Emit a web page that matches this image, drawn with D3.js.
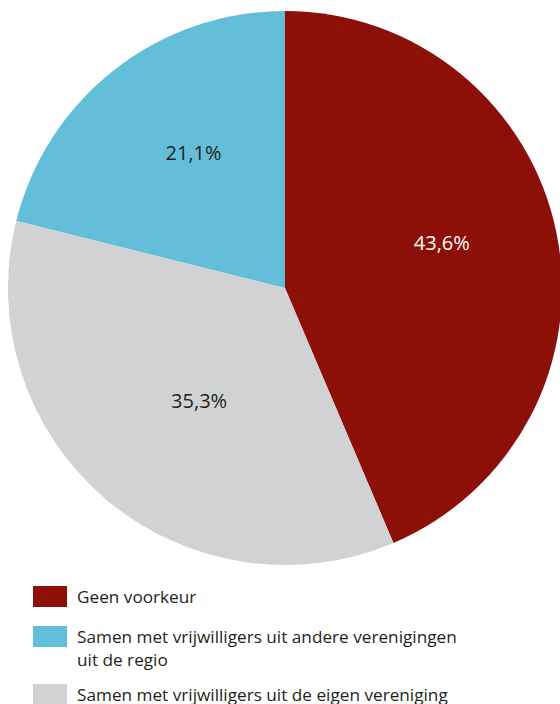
<!DOCTYPE html>
<html>
<head>
<meta charset="utf-8">
<script src="https://cdn.jsdelivr.net/npm/d3@7"></script>
<style>
  body { margin: 0; background: #fff; }
  text { font-family: "Open Sans", "Noto Sans", sans-serif; }
</style>
</head>
<body>
<script>
// slices, clockwise from 12 o'clock
var categories = ["Geen voorkeur",
                  "Samen met vrijwilligers uit de eigen vereniging",
                  "Samen met vrijwilligers uit andere verenigingen uit de regio"];
var values = [43.6, 35.3, 21.1];
var colors = ["#8c1008", "#d1d2d4", "#63bfd9"];
var labelColors = ["#ffffff", "#231f20", "#231f20"];

// legend order differs from slice order
var legendOrder = [0, 2, 1];
var legendLines = [["Geen voorkeur"],
                   ["Samen met vrijwilligers uit andere verenigingen", "uit de regio"],
                   ["Samen met vrijwilligers uit de eigen vereniging"]];

var width = 560, height = 704;
var cx = 285, cy = 288, radius = 277;

var svg = d3.select("body").append("svg")
    .attr("width", width)
    .attr("height", height);

var pie = d3.pie().sort(null).value(function(d) { return d; });
var arcs = pie(values);

var arc = d3.arc().innerRadius(0).outerRadius(radius);
var labelArc = d3.arc().innerRadius(160).outerRadius(160);

var g = svg.append("g")
    .attr("transform", "translate(" + cx + "," + cy + ")");

g.selectAll(".slice")
    .data(arcs)
  .enter().append("path")
    .attr("class", "slice")
    .attr("d", arc)
    .attr("fill", function(d, i) { return colors[i]; });

// small nudges so labels sit where the original has them
var nudge = [[0, -13], [18, -9], [7, -9]];

g.selectAll(".lbl")
    .data(arcs)
  .enter().append("text")
    .attr("class", "lbl")
    .attr("transform", function(d, i) {
        var c = labelArc.centroid(d);
        return "translate(" + (c[0] + nudge[i][0]) + "," + (c[1] + nudge[i][1]) + ")";
    })
    .attr("text-anchor", "middle")
    .attr("dy", "0.35em")
    .style("font-size", "20px")
    .attr("fill", function(d, i) { return labelColors[i]; })
    .text(function(d) { return d3.format(".1f")(d.value).replace(".", ",") + "%"; });

// legend
var legendY = [586, 626, 684];
var legend = svg.append("g");

legendOrder.forEach(function(idx, k) {
    legend.append("rect")
        .attr("x", 33)
        .attr("y", legendY[k])
        .attr("width", 34)
        .attr("height", 21)
        .attr("fill", colors[idx]);

    var t = legend.append("text")
        .attr("x", 77)
        .attr("y", legendY[k] + 17)
        .style("font-size", "17.2px")
        .attr("fill", "#231f20");
    legendLines[k].forEach(function(line, j) {
        t.append("tspan")
            .attr("x", 77)
            .attr("dy", j == 0 ? 0 : 23)
            .text(line);
    });
});
</script>
</body>
</html>
